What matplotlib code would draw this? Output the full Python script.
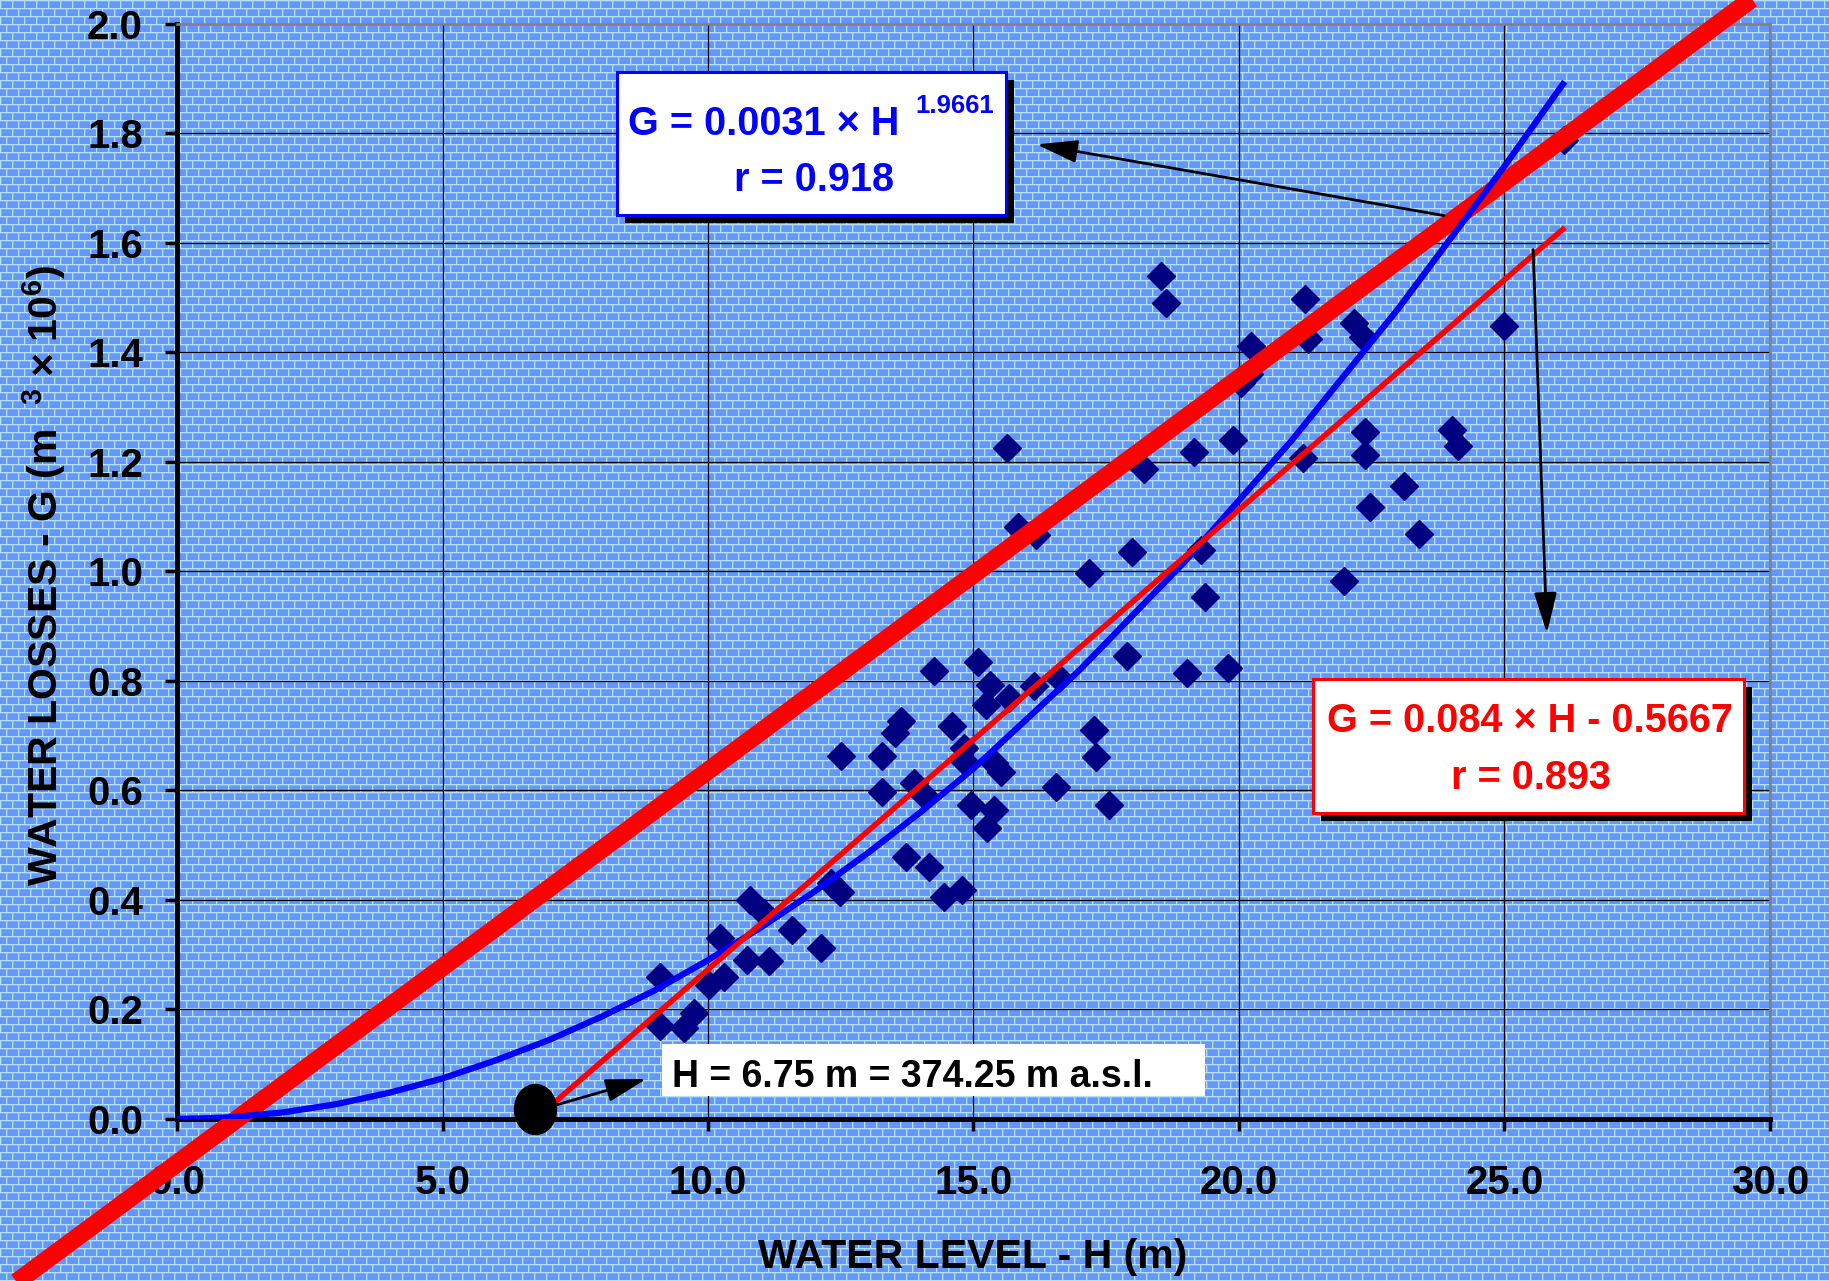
import numpy as np
import matplotlib.pyplot as plt
from matplotlib.path import Path
from matplotlib.patches import Rectangle
from matplotlib.ticker import MultipleLocator, FormatStrFormatter

plt.rcParams['font.family'] = ['Liberation Sans', 'DejaVu Sans']
plt.rcParams['font.weight'] = 'bold'
plt.rcParams['mathtext.default'] = 'regular'

# measured points: water level H (m) / water losses G (10^6 m3)
level_h = [9.10, 9.10, 9.54, 9.73, 10.01, 10.30, 10.23, 10.74, 11.15, 10.80,
           11.05, 11.58, 12.12, 12.32, 12.49, 13.72, 14.16, 14.44, 14.78,
           12.51, 13.28, 13.28, 13.88, 14.07, 13.64, 13.53, 14.25, 14.60,
           14.82, 14.82, 15.08, 15.32, 15.23, 15.67, 16.14, 16.61, 15.39,
           15.51, 14.95, 15.39, 15.26, 16.55, 17.27, 17.30, 17.55,
           15.64, 15.83, 16.17, 17.18, 17.99, 18.21, 19.15, 19.89, 21.20,
           19.28, 19.36, 17.90, 19.02, 19.79, 18.53, 18.63, 20.22, 20.18,
           20.03, 21.24, 21.30,
           22.17, 22.33, 25.00, 22.37, 22.37, 24.02, 24.12, 23.10, 22.46,
           23.39, 21.98, 26.12]
loss_g = [0.260, 0.169, 0.166, 0.193, 0.245, 0.260, 0.330, 0.290, 0.288, 0.400,
          0.376, 0.345, 0.312, 0.431, 0.414, 0.479, 0.461, 0.405, 0.418,
          0.663, 0.663, 0.598, 0.613, 0.592, 0.726, 0.705, 0.819, 0.717,
          0.677, 0.653, 0.834, 0.793, 0.756, 0.768, 0.790, 0.805, 0.650,
          0.634, 0.574, 0.564, 0.531, 0.607, 0.711, 0.662, 0.574,
          1.225, 1.082, 1.067, 0.997, 1.035, 1.188, 1.219, 1.240, 1.207,
          1.039, 0.954, 0.846, 0.814, 0.823, 1.539, 1.491, 1.411, 1.360,
          1.345, 1.497, 1.425,
          1.453, 1.429, 1.448, 1.255, 1.213, 1.258, 1.229, 1.156, 1.118,
          1.068, 0.982, 1.788]

# power trend (blue)
power_h = [0, 0.5, 1, 2, 3, 4, 5, 6, 7, 8, 9, 10, 11, 12, 13, 14, 15, 16, 17,
           18, 19, 20, 21, 22, 23, 24, 25, 26.1]
power_g = [0, 0.001, 0.003, 0.012, 0.027, 0.048, 0.074, 0.107, 0.144, 0.187,
           0.235, 0.290, 0.350, 0.415, 0.485, 0.560, 0.640, 0.730, 0.820,
           0.920, 1.020, 1.130, 1.240, 1.360, 1.480, 1.610, 1.740, 1.890]

# linear trend (thin red)
linear_h = [6.75, 26.1]
linear_g = [0.0, 1.625]

# thick red line, runs past the axes
guide_h = [-4.0, 30.5]
guide_g = [-0.368, 2.106]

# marked level H = 6.75 m
mark_h = [6.75]
mark_g = [0.018]


def brick_background(w, h):
    brick = np.array([100, 150, 252]) / 255.0
    edge = np.array([125, 175, 250]) / 255.0
    mortar = np.array([180, 225, 240]) / 255.0
    yy, xx = np.mgrid[0:h, 0:w]
    row = yy // 8
    xs = (xx + (row % 2) * 6) % 12
    ys = yy % 8
    img = np.empty((h, w, 3))
    img[:] = brick
    img[(xs == 1) | (ys == 1)] = edge
    img[(xs == 0) | (ys == 0)] = mortar
    return img


fig = plt.figure(figsize=(18.29, 12.81), dpi=100)
fig.figimage(brick_background(1829, 1281), 0, 0, zorder=-1)
ax = fig.add_axes([0.0968, 0.1265, 0.8709, 0.8548])
ax.set_facecolor('none')

ax.set_xlim(0, 30)
ax.set_ylim(0, 2.0)
ax.xaxis.set_major_locator(MultipleLocator(5))
ax.yaxis.set_major_locator(MultipleLocator(0.2))
ax.xaxis.set_major_formatter(FormatStrFormatter('%.1f'))
ax.yaxis.set_major_formatter(FormatStrFormatter('%.1f'))
ax.grid(True, color='black', lw=0.9)
ax.set_axisbelow('line')

for s in ['left', 'bottom']:
    ax.spines[s].set_linewidth(3.5)
    ax.spines[s].set_color('black')
for s in ['top', 'right']:
    ax.spines[s].set_linewidth(1.8)
    ax.spines[s].set_color('#808080')
ax.tick_params(axis='both', direction='out', length=8.6, width=2.5,
               labelsize=29, color='black')
ax.tick_params(axis='x', pad=24)
ax.tick_params(axis='y', pad=16)
ax.tick_params(top=False, right=False)

# data and trend lines
ax.plot(guide_h, guide_g, color='#ff0000', lw=13, clip_on=False,
        solid_capstyle='butt', zorder=3)
ax.plot(power_h, power_g, color='#0000ff', lw=4.5, zorder=4)
ax.plot(linear_h, linear_g, color='#ff0000', lw=4.0, zorder=4)
ax.plot(level_h, loss_g, linestyle='none', marker='D', markersize=14.5,
        color='#000080', zorder=2.8)

oval = Path(Path.unit_circle().vertices * [0.84, 1.0], Path.unit_circle().codes)
ax.plot(mark_h, mark_g, linestyle='none', marker=oval, markersize=36,
        color='black', clip_on=False, zorder=5)

# arrows
arrow = dict(arrowstyle='-|>,head_length=1.0,head_width=0.28',
             color='black', lw=2.0, mutation_scale=25, shrinkA=0, shrinkB=0)
ax.annotate('', xy=(16.19, 1.780), xytext=(23.86, 1.650), arrowprops=arrow, zorder=6)
ax.annotate('', xy=(25.80, 0.887), xytext=(25.54, 1.588), arrowprops=arrow, zorder=6)
ax.annotate('', xy=(8.84, 0.073), xytext=(7.16, 0.026), arrowprops=arrow, zorder=6)

# equation boxes
dx, dy = 0.15, 0.0146
ax.add_patch(Rectangle((8.29 + dx, 1.651 - dy), 7.33, 0.261, fc='black', ec='none', zorder=7))
ax.add_patch(Rectangle((8.29, 1.651), 7.33, 0.261, fc='white', ec='#0000ff', lw=2.2, zorder=8))
ax.text(8.50, 1.797, 'G = 0.0031 × H', color='#0000ff', fontsize=28.5,
        ha='left', va='baseline', zorder=9)
ax.text(13.91, 1.837, '1.9661', color='#0000ff', fontsize=18.5,
        ha='left', va='baseline', zorder=9)
ax.text(12.0, 1.695, 'r = 0.918', color='#0000ff', fontsize=28.5,
        ha='center', va='baseline', zorder=9)

ax.add_patch(Rectangle((21.39 + dx, 0.559 - dy), 8.12, 0.245, fc='black', ec='none', zorder=7))
ax.add_patch(Rectangle((21.39, 0.559), 8.12, 0.245, fc='white', ec='#ff0000', lw=2.2, zorder=8))
ax.text(25.48, 0.7074, 'G = 0.084 × H - 0.5667', color='#ff0000', fontsize=28.5,
        ha='center', va='baseline', zorder=9)
ax.text(25.50, 0.6027, 'r = 0.893', color='#ff0000', fontsize=28.5,
        ha='center', va='baseline', zorder=9)

ax.add_patch(Rectangle((9.14, 0.042), 10.22, 0.095, fc='white', ec='none', zorder=8))
ax.text(9.33, 0.059, 'H = 6.75 m = 374.25 m a.s.l.', color='black', fontsize=27,
        ha='left', va='baseline', zorder=9)

# axis titles
fig.text(973 / 1829, 13 / 1281, 'WATER LEVEL - H (m)', fontsize=29.5,
         ha='center', va='baseline')
fig.text(58 / 1829, 1 - 575 / 1281,
         r'WATER LOSSES - G (m  $^{3}$ × 10$^{6}$)', fontsize=29.5,
         rotation=90, rotation_mode='anchor', ha='center', va='baseline')

fig.savefig('out.png', dpi=100)
